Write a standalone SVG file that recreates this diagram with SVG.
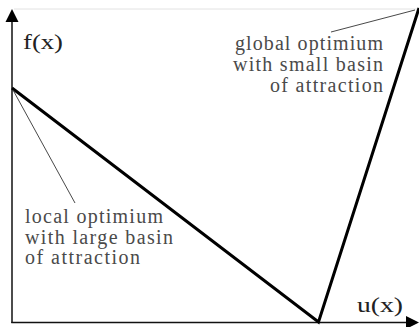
<svg xmlns="http://www.w3.org/2000/svg" width="419" height="327" viewBox="0 0 419 327">
<style>
.axis{stroke:#111;stroke-width:1.5;fill:none}
.head{fill:#000;stroke:none}
.curve{stroke:#000;stroke-width:3;fill:none;stroke-linejoin:miter}
.leader{stroke:#333;stroke-width:0.9;fill:none}
.lbl{font-family:"Liberation Serif",serif;font-size:20px;fill:#4a4a4a}
.ax{font-family:"Liberation Serif",serif;font-size:22px;fill:#222}
</style>
<rect width="419" height="327" fill="#fff"/>
<line x1="14" y1="9" x2="419" y2="9" stroke="#e2e2e2" stroke-width="1"/>
<g id="connectors">
<line class="axis" x1="12" y1="323" x2="12" y2="20"/>
<path class="head" d="M12,9 L18.5,22 L5.5,22 Z"/>
<line class="axis" x1="11.3" y1="322.5" x2="408" y2="322.5"/>
<path class="head" d="M419,322.5 L406,316 L406,329 Z"/>
<polyline class="curve" points="12,88 318.5,322 419,8"/>
<line class="leader" x1="13" y1="90" x2="75" y2="203"/>
<line class="leader" x1="331" y1="32" x2="415" y2="10"/>
</g>
<g id="fx"><text class="ax" x="23" y="49" textLength="40" lengthAdjust="spacingAndGlyphs">f(x)</text></g>
<g id="ux"><text class="ax" x="357" y="312" textLength="46" lengthAdjust="spacingAndGlyphs">u(x)</text></g>
<g id="global">
<text class="lbl" text-anchor="end" x="383" y="50" textLength="148">global optimium</text>
<text class="lbl" text-anchor="end" x="383" y="71" textLength="150">with small basin</text>
<text class="lbl" text-anchor="end" x="383" y="92" textLength="113">of attraction</text>
</g>
<g id="local">
<text class="lbl" x="25" y="223" textLength="138">local optimium</text>
<text class="lbl" x="25" y="244" textLength="148">with large basin</text>
<text class="lbl" x="25" y="264" textLength="115">of attraction</text>
</g>
</svg>
